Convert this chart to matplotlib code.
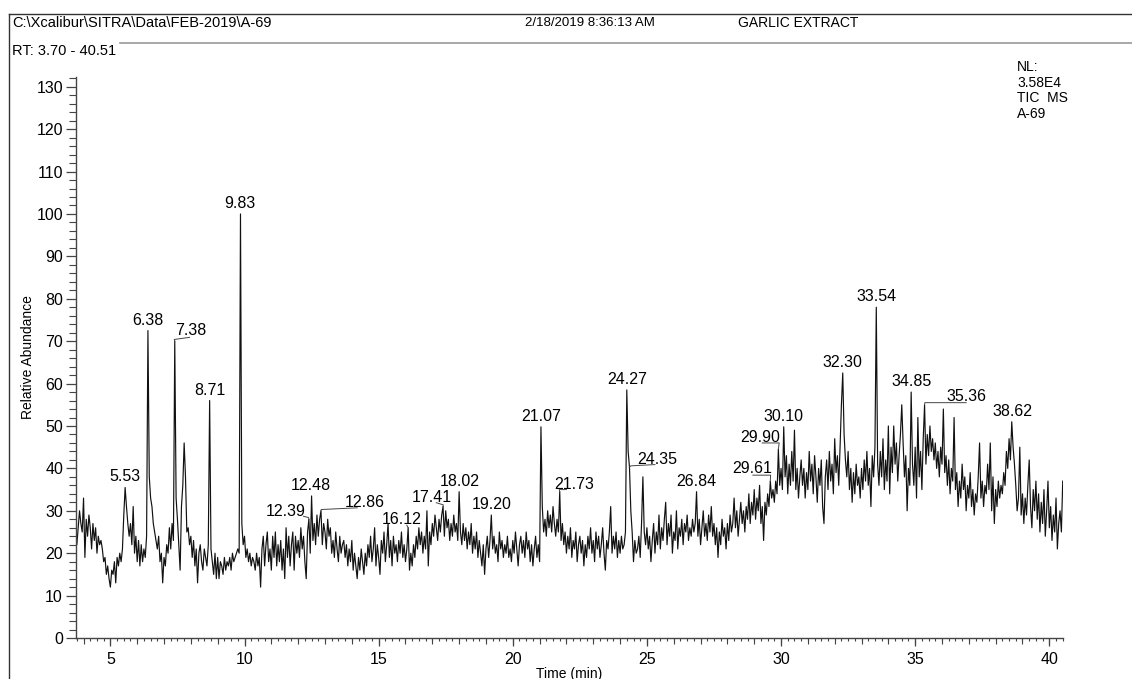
import matplotlib
matplotlib.use("Agg")
import matplotlib.pyplot as plt
import numpy as np
from matplotlib.lines import Line2D
from matplotlib.ticker import MultipleLocator

plt.rcParams["font.family"] = ["Liberation Sans", "DejaVu Sans"]

W, H = 1132, 679

# TIC trace, one value per 0.05 min starting at 3.70 min
RT_START = 3.70
SCAN_STEP = 0.05
ABUNDANCE = [
    24, 22, 26, 30, 27, 25, 33, 19, 28, 24, 29, 26, 21, 27, 23, 26, 20, 24, 22, 23,
    21, 18, 19, 15, 17, 14, 12, 16, 15, 18, 13, 19, 17, 20, 18, 21, 29, 35.5, 31, 27,
    24, 27, 22, 31, 20, 24, 18, 23, 17, 22, 18, 21, 19, 24, 72.5, 38, 33, 31, 27, 25,
    23, 21, 24, 18, 20, 13, 19, 17, 22, 20, 26, 21, 27, 23, 70, 33, 28, 22, 16, 31,
    36, 46, 38, 25, 26, 22, 24, 19, 23, 17, 21, 13, 20, 22, 18, 16, 21, 19, 17, 22,
    56, 21, 18, 15, 20, 14, 19, 14, 18, 17, 15, 19, 16, 18, 17, 19, 16, 20, 18, 19,
    20, 21, 20, 100, 27, 22, 24, 19, 21, 18, 20, 17, 19, 18, 16, 20, 17, 19, 12, 21,
    24, 17, 22, 25, 18, 21, 16, 24, 19, 25, 17, 22, 18, 23, 16, 21, 14, 26, 19, 24,
    17, 22, 25, 16, 24, 20, 23, 19, 26, 21, 24, 18, 14, 25, 28, 20, 33.5, 23, 27, 22,
    29, 24, 28, 30, 22, 27, 25, 21, 28, 24, 26, 20, 23, 19, 25, 21, 18, 24, 20, 22,
    23, 19, 22, 17, 21, 18, 23, 16, 20, 17, 14, 19, 16, 21, 18, 15, 20, 17, 22, 19,
    24, 18, 21, 26, 17, 22, 19, 15, 23, 20, 25, 18, 22, 27, 19, 23, 17, 24, 20, 22,
    18, 23, 20, 25, 19, 22, 18, 21, 26, 16, 20, 17, 22, 19, 24, 21, 26, 22, 25, 20,
    24, 21, 30, 17, 25, 22, 27, 24, 29, 26, 23, 28, 25, 29, 31, 24, 30, 26, 28, 23,
    27, 24, 29, 25, 27, 23, 34.5, 25, 22, 27, 23, 26, 21, 25, 22, 27, 20, 24, 21, 25,
    19, 23, 20, 17, 22, 15, 21, 24, 19, 23, 29, 21, 24, 20, 22, 18, 25, 21, 23, 19,
    22, 20, 24, 19, 21, 18, 23, 20, 25, 21, 17, 22, 24, 20, 23, 19, 25, 21, 23, 18,
    22, 17, 21, 24, 19, 22, 18, 49.8, 31, 25, 28, 24, 30, 26, 29, 25, 31, 27, 24, 28,
    25, 34.5, 23, 27, 22, 25, 20, 24, 21, 26, 19, 23, 21, 25, 18, 22, 24, 20, 23, 17,
    22, 19, 24, 21, 26, 20, 23, 18, 25, 21, 24, 19, 22, 26, 20, 16, 23, 21, 25, 31,
    20, 24, 21, 25, 19, 23, 20, 24, 21, 22, 25, 58.5, 44, 40.3, 30, 25, 18, 23, 20, 21,
    24, 19, 27, 38, 25, 22, 26, 21, 24, 18, 23, 27, 20, 25, 22, 29, 21, 26, 23, 28,
    32, 22, 27, 24, 29, 20, 25, 23, 30, 21, 26, 24, 28, 22, 27, 25, 29, 23, 26, 24,
    28, 25, 27, 34.5, 24, 28, 22, 26, 30, 24, 27, 23, 29, 25, 31, 24, 27, 22, 26, 19,
    25, 22, 28, 24, 26, 21, 27, 23, 29, 25, 27, 33, 26, 30, 24, 28, 32, 27, 30, 25,
    31, 28, 34, 27, 32, 29, 35, 28, 33, 30, 36, 27, 31, 23, 32, 29, 34, 31, 37, 33,
    35, 32, 37, 34, 44.5, 36, 40, 35, 49.8, 38, 43, 34, 41, 36, 44, 37, 49, 35, 40, 33,
    38, 42, 36, 40, 33, 39, 35, 44, 37, 41, 34, 43, 38, 32, 40, 36, 42, 31, 27, 38,
    42, 35, 44, 37, 41, 34, 47, 39, 43, 36, 45, 55, 62.5, 48, 42, 38, 44, 35, 40, 32,
    39, 34, 41, 36, 38, 33, 40, 35, 42, 37, 44, 36, 40, 31, 43, 38, 45, 78, 41, 36,
    44, 38, 47, 35, 42, 37, 50, 34, 45, 39, 50, 41, 46, 37, 43, 48, 55, 46, 38, 43,
    30, 40, 36, 58, 41, 36, 45, 33, 52, 38, 44, 35, 47, 55, 41, 48, 43, 50, 44, 47,
    42, 46, 40, 44, 38, 45, 41, 54, 39, 43, 36, 42, 34, 40, 37, 52, 35, 39, 31, 37,
    33, 41, 35, 38, 30, 36, 33, 39, 31, 35, 29, 34, 32, 38, 46, 33, 37, 31, 36, 34,
    41, 35, 46, 30, 38, 27, 35, 31, 37, 33, 36, 34, 39, 36, 44, 40, 47, 42, 51, 45,
    41, 36, 30, 33, 45, 29, 34, 27, 33, 29, 36, 42, 31, 26, 35, 30, 37, 28, 34, 25,
    32, 27, 35, 24, 30, 37, 26, 31, 23, 29, 25, 33, 21, 27, 30, 25, 37,
]

# labelled peaks (retention time in min)
PEAK_RT = [5.53, 6.38, 7.38, 8.71, 9.83, 12.39, 12.48, 12.86, 16.12, 17.41,
           18.02, 19.20, 21.07, 21.73, 24.27, 24.35, 26.84, 29.61, 29.90, 30.10,
           32.30, 33.54, 34.85, 35.36, 38.62]
PEAK_TEXT = ["%.2f" % rt for rt in PEAK_RT]

# labels moved aside with a leader line: text centre, then leader points
LEADERS = {
    "7.38": ((7.99, 72.4), [(7.38, 70.4), (7.95, 70.9)]),
    "12.39": ((11.55, 29.9), [(12.39, 28.4), (12.2, 28.7)]),
    "12.86": ((14.47, 31.9), [(12.86, 30.3), (14.2, 30.7)]),
    "16.12": ((15.85, 27.9), [(16.05, 26.6)]),
    "17.41": ((17.0, 33.1), [(17.41, 31.4), (17.15, 31.9)]),
    "21.73": ((22.3, 36.3), [(21.73, 35.0), (22.0, 35.0)]),
    "24.35": ((25.38, 42.1), [(24.40, 40.6), (25.3, 40.9)]),
    "29.61": ((28.93, 40.0), [(29.61, 38.4), (28.95, 38.4)]),
    "29.90": ((29.24, 47.4), [(29.93, 46.0), (29.3, 46.0)]),
    "35.36": ((36.92, 57.0), [(35.36, 55.5), (36.9, 55.5)]),
}

HEADER_PATH = "C:\\Xcalibur\\SITRA\\Data\\FEB-2019\\A-69"
HEADER_DATE = "2/18/2019 8:36:13 AM"
HEADER_NAME = "GARLIC EXTRACT"
RT_RANGE = "RT: 3.70 - 40.51"
NL_INFO = "NL:\n3.58E4\nTIC  MS\nA-69"


def fx(px):
    return px / W


def fy(py):
    return 1 - py / H


scan_time = RT_START + SCAN_STEP * np.arange(len(ABUNDANCE))
abundance = np.array(ABUNDANCE, dtype=float)

fig = plt.figure(figsize=(W / 100, H / 100), dpi=100)
ax = fig.add_axes([fx(75.5), fy(638), fx(1063) - fx(75.5), fy(77) - fy(638)])

ax.plot(scan_time, abundance, color="#111111", lw=0.85)

for rt, txt in zip(PEAK_RT, PEAK_TEXT):
    i = int(np.argmin(np.abs(scan_time - rt)))
    top = abundance[i]
    if txt in LEADERS:
        (tx, ty), pts = LEADERS[txt]
        xs = [scan_time[i]] + [p[0] for p in pts]
        ys = [top] + [p[1] for p in pts]
        ax.plot(xs, ys, color="#444444", lw=0.7)
        ax.text(tx, ty, txt, ha="center", va="center", fontsize=11.5)
    else:
        ax.text(rt, top + 0.7, txt, ha="center", va="bottom", fontsize=11.5)

ax.set_xlim(3.70, 40.51)
ax.set_ylim(0, 132.3)
ax.set_xticks(np.arange(5, 41, 5))
ax.set_yticks(np.arange(0, 131, 10))
ax.xaxis.set_minor_locator(MultipleLocator(0.25))
ax.yaxis.set_minor_locator(MultipleLocator(2))
ax.tick_params(axis="both", which="major", direction="out", labelsize=11.5,
               color="#444444", width=0.9)
ax.tick_params(axis="x", which="major", length=6, pad=4)
ax.tick_params(axis="y", which="major", length=7, pad=2)
ax.tick_params(axis="x", which="minor", length=2.5, color="#444444", width=0.8)
ax.tick_params(axis="y", which="minor", length=5, color="#444444", width=0.8)

# 1-minute ticks between the labelled ones
sec = ax.secondary_xaxis("bottom")
sec.set_xticks(np.arange(4, 41, 1))
sec.tick_params(length=4.5, color="#444444", width=0.8, labelbottom=False)
sec.spines["bottom"].set_visible(False)

for side in ("top", "right"):
    ax.spines[side].set_visible(False)
for side in ("left", "bottom"):
    ax.spines[side].set_color("#444444")
    ax.spines[side].set_linewidth(1.0)

ax.set_ylabel("Relative Abundance", fontsize=10, labelpad=1)
ax.set_xlabel("Time (min)", fontsize=10, labelpad=0)

# header frame
fig.add_artist(Line2D([fx(9), 1], [fy(13.5), fy(13.5)], color="#333333", lw=1.0))
fig.add_artist(Line2D([fx(9), fx(9)], [0, fy(13.5)], color="#333333", lw=1.0))
fig.add_artist(Line2D([fx(120), 1], [fy(43), fy(43)], color="#999999", lw=1.2))

fig.text(fx(12), fy(23), HEADER_PATH, fontsize=10.5, va="center", ha="left")
fig.text(fx(655), fy(23), HEADER_DATE, fontsize=9.5, va="center", ha="right")
fig.text(fx(738), fy(23), HEADER_NAME, fontsize=10, va="center", ha="left")
fig.text(fx(12), fy(51), RT_RANGE, fontsize=10.5, va="center", ha="left")
fig.text(fx(1017), fy(60), NL_INFO, fontsize=10, va="top", ha="left",
         linespacing=1.15)

fig.savefig("out.png", dpi=100)
